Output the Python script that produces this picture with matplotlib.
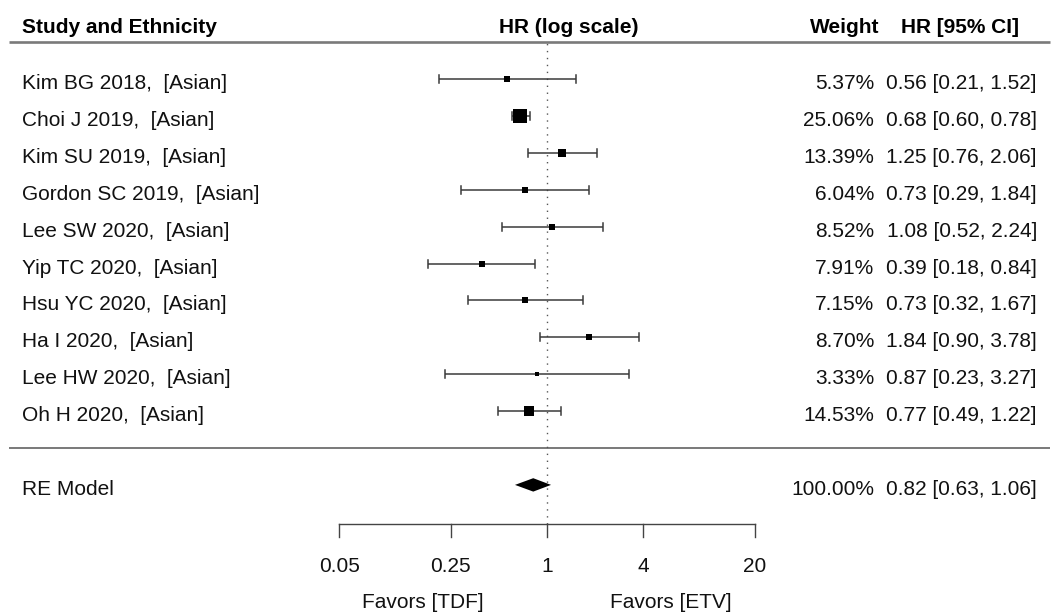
import numpy as np
import matplotlib
matplotlib.use("Agg")
import matplotlib.pyplot as plt
import matplotlib.transforms as mtransforms
from matplotlib.patches import Polygon

# ---------------- data ----------------
studies = ["Kim BG 2018,  [Asian]", "Choi J 2019,  [Asian]", "Kim SU 2019,  [Asian]",
           "Gordon SC 2019,  [Asian]", "Lee SW 2020,  [Asian]", "Yip TC 2020,  [Asian]",
           "Hsu YC 2020,  [Asian]", "Ha I 2020,  [Asian]", "Lee HW 2020,  [Asian]",
           "Oh H 2020,  [Asian]"]
hr = [0.56, 0.68, 1.25, 0.73, 1.08, 0.39, 0.73, 1.84, 0.87, 0.77]
ci_lo = [0.21, 0.60, 0.76, 0.29, 0.52, 0.18, 0.32, 0.90, 0.23, 0.49]
ci_hi = [1.52, 0.78, 2.06, 1.84, 2.24, 0.84, 1.67, 3.78, 3.27, 1.22]
weights = [5.37, 25.06, 13.39, 6.04, 8.52, 7.91, 7.15, 8.70, 3.33, 14.53]

re_label = "RE Model"
re_hr, re_lo, re_hi, re_weight = 0.82, 0.63, 1.06, 100.00

tick_vals = [0.05, 0.25, 1, 4, 20]
tick_labels = ["0.05", "0.25", "1", "4", "20"]

header_study = "Study and Ethnicity"
header_plot = "HR (log scale)"
header_weight = "Weight"
header_ci = "HR [95% CI]"
favors_left = "Favors [TDF]"
favors_right = "Favors [ETV]"

# ---------------- layout ----------------
plt.rcParams["font.family"] = ["Liberation Sans", "DejaVu Sans"]
FS = 15.0
W, H = 1057, 615
fig = plt.figure(figsize=(W / 100, H / 100), dpi=100)
ax = fig.add_axes([0, 0, 1, 1])
ax.set_xscale("log")
PX_PER_LN = 69.3
X1 = 547.0
ax.set_xlim(np.exp(-X1 / PX_PER_LN), np.exp((W - X1) / PX_PER_LN))
ROW0, ROWSTEP = 79.0, 36.9


def prow(px):
    return 10 - (px - ROW0) / ROWSTEP


ax.set_ylim(prow(H), prow(0))
ax.axis("off")
bt = mtransforms.blended_transform_factory(ax.transAxes, ax.transData)


def fx(px):
    return px / W


k = len(studies)
rows = np.arange(k, 0, -1)
re_row = -1
base_off = 10.0 / ROWSTEP  # baseline offset below row centre
TXT = "#111111"

# horizontal rules
ax.plot([fx(9), fx(1050)], [k + 1, k + 1], transform=bt, color="#7a7a7a", lw=1.9,
        solid_capstyle="butt")
ax.plot([fx(9), fx(1050)], [0, 0], transform=bt, color="#555555", lw=1.1,
        solid_capstyle="butt")

# reference line
axis_row = prow(524)
ax.plot([1, 1], [axis_row, k + 1], color="#555555", lw=1.0, linestyle=(0, (1, 4)))

# CIs and squares
wmin, wmax = min(weights), max(weights)
cap = 4.0 / ROWSTEP
for r, h, lo, hi, w in zip(rows, hr, ci_lo, ci_hi, weights):
    ax.plot([lo, hi], [r, r], color="#3a3a3a", lw=1.1, solid_capstyle="butt")
    ax.plot([lo, lo], [r - cap, r + cap], color="#3a3a3a", lw=1.1)
    ax.plot([hi, hi], [r - cap, r + cap], color="#3a3a3a", lw=1.1)
    side_px = 4.5 + 9.5 * (w - wmin) / (wmax - wmin)
    ax.plot([h], [r], marker="s", markersize=side_px * 0.72, color="black",
            markeredgewidth=0)

# summary diamond
dh = 6.7 / ROWSTEP
ax.add_patch(Polygon([(re_lo, re_row), (re_hr, re_row + dh), (re_hi, re_row),
                      (re_hr, re_row - dh)], closed=True, color="black", lw=0))

# x axis
ax.plot([tick_vals[0], tick_vals[-1]], [axis_row, axis_row], color="#444444", lw=1.0)
tick_bot = prow(537)
for tv, tl in zip(tick_vals, tick_labels):
    ax.plot([tv, tv], [tick_bot, axis_row], color="#444444", lw=1.0)
    ax.text(tv, prow(571.5), tl, ha="center", va="baseline", fontsize=FS, color=TXT)

ax.text(np.exp(-124 / PX_PER_LN), prow(608.5), favors_left, ha="center", va="baseline",
        fontsize=FS, color=TXT)
ax.text(np.exp(124 / PX_PER_LN), prow(608.5), favors_right, ha="center", va="baseline",
        fontsize=FS, color=TXT)

# headers
hb = prow(33)
ax.text(fx(22), hb, header_study, transform=bt, ha="left", va="baseline", fontsize=FS,
        fontweight="bold", color="black")
ax.text(fx(569), hb, header_plot, transform=bt, ha="center", va="baseline", fontsize=FS,
        fontweight="bold", color="black")
ax.text(fx(879), hb, header_weight, transform=bt, ha="right", va="baseline", fontsize=FS,
        fontweight="bold", color="black")
ax.text(fx(1019), hb, header_ci, transform=bt, ha="right", va="baseline", fontsize=FS,
        fontweight="bold", color="black")

# row texts
for r, s, h, lo, hi, w in zip(rows, studies, hr, ci_lo, ci_hi, weights):
    yb = r - base_off
    ax.text(fx(22), yb, s, transform=bt, ha="left", va="baseline", fontsize=FS, color=TXT)
    ax.text(fx(874), yb, f"{w:.2f}%", transform=bt, ha="right", va="baseline", fontsize=FS,
            color=TXT)
    ax.text(fx(1037), yb, f"{h:.2f} [{lo:.2f}, {hi:.2f}]", transform=bt, ha="right",
            va="baseline", fontsize=FS, color=TXT)

yb = re_row - base_off
ax.text(fx(22), yb, re_label, transform=bt, ha="left", va="baseline", fontsize=FS, color=TXT)
ax.text(fx(874), yb, f"{re_weight:.2f}%", transform=bt, ha="right", va="baseline",
        fontsize=FS, color=TXT)
ax.text(fx(1037), yb, f"{re_hr:.2f} [{re_lo:.2f}, {re_hi:.2f}]", transform=bt, ha="right",
        va="baseline", fontsize=FS, color=TXT)

fig.savefig("out.png", dpi=100, facecolor="white")
